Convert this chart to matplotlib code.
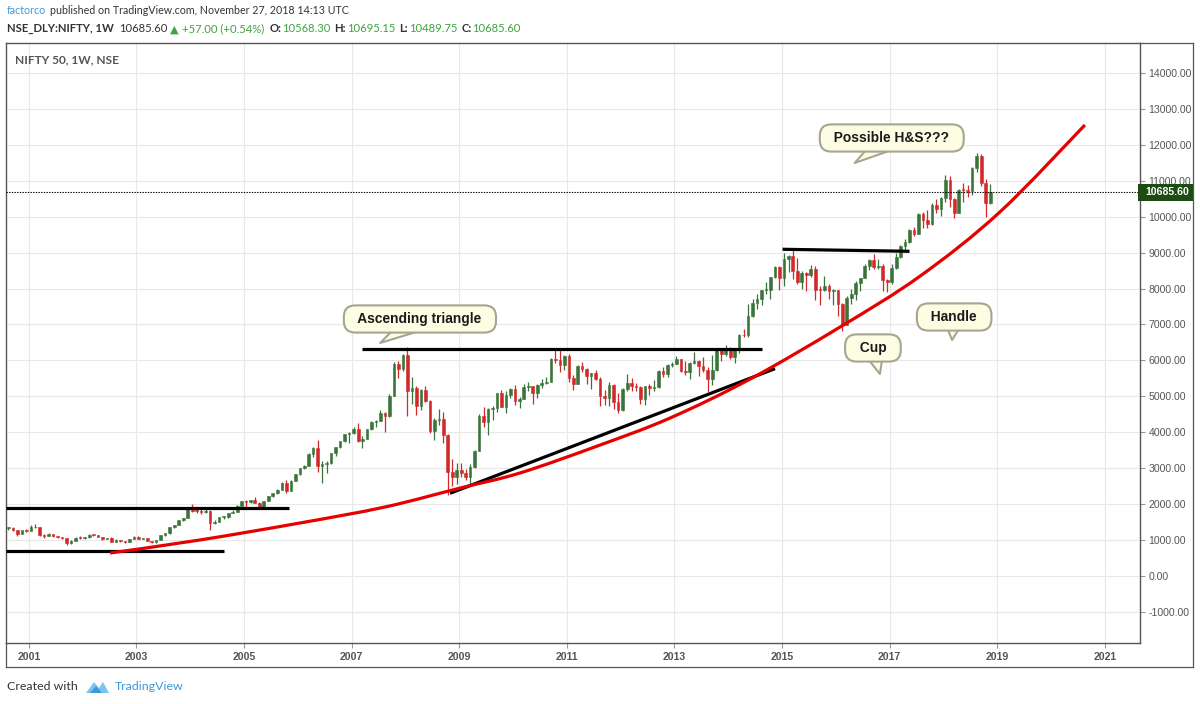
import numpy as np
import pandas as pd
import matplotlib
matplotlib.use("Agg")
import matplotlib.pyplot as plt
from matplotlib.patches import Rectangle, Polygon, PathPatch
from matplotlib.path import Path
from matplotlib.lines import Line2D
import matplotlib.transforms as mtransforms

plt.rcParams['font.family'] = ['Liberation Sans', 'DejaVu Sans']

W, H = 1200, 704

# ---------------- data (monthly NIFTY 50 candles) ----------------
start_month = "2000-08"
first_open = 1330
closes = [
    1332, 1271, 1172, 1268, 1264,
    1371, 1352, 1148, 1126, 1168, 1107, 1073, 1053, 913, 971, 1067, 1059,
    1075, 1142, 1130, 1084, 1028, 1058, 959, 1010, 963, 951, 1024, 1094,
    1042, 1063, 978, 934, 1007, 1134, 1185, 1356, 1418, 1556, 1615, 1880,
    1809, 1801, 1772, 1796, 1484, 1505, 1632, 1632, 1746, 1786, 1959, 2081,
    2058, 2104, 2036, 1902, 2087, 2221, 2312, 2385, 2601, 2371, 2652, 2837,
    3001, 3075, 3403, 3558, 3071, 3128, 3143, 3413, 3588, 3744, 3955, 3966,
    4083, 3745, 3822, 4087, 4296, 4318, 4529, 4464, 5021, 5901, 5762, 6139,
    5137, 5224, 4735, 5166, 4870, 4040, 4333, 4360, 3921, 2885, 2755, 2959,
    2874, 2763, 3021, 3474, 4449, 4291, 4636, 4662, 5084, 4712, 5033, 5201,
    4882, 4922, 5249, 5278, 5087, 5313, 5368, 5402, 6030, 6018, 5863, 6135,
    5506, 5333, 5834, 5749, 5560, 5647, 5482, 5001, 4943, 5327, 4832, 4624,
    5199, 5385, 5296, 5248, 4924, 5279, 5229, 5259, 5703, 5620, 5880, 5905,
    6035, 5693, 5683, 5930, 5986, 5842, 5742, 5471, 5735, 6299, 6176, 6304,
    6090, 6277, 6704, 6696, 7230, 7611, 7721, 7954, 7965, 8322, 8588, 8283,
    8809, 8902, 8491, 8182, 8434, 8369, 8533, 7971, 7949, 8066, 7935, 7946,
    7564, 6987, 7738, 7850, 8160, 8288, 8639, 8786, 8611, 8626, 8224, 8186,
    8561, 8880, 9174, 9304, 9621, 9521, 10077, 9918, 9789, 10335, 10227, 10531,
    11028, 10493, 10114, 10739, 10736, 10714, 11357, 11681, 10930, 10387, 10686,
]
highs = [
    1360, 1375, 1290, 1290, 1300,
    1425, 1440, 1370, 1180, 1200, 1170, 1120, 1085, 1060, 1000, 1080, 1110,
    1090, 1160, 1180, 1140, 1090, 1070, 1075, 1020, 1015, 980, 1030, 1100,
    1100, 1070, 1070, 985, 1010, 1140, 1190, 1360, 1430, 1560, 1620, 1900,
    2015, 1880, 1860, 1920, 1850, 1560, 1640, 1660, 1760, 1830, 1970, 2090,
    2110, 2120, 2190, 2070, 2090, 2230, 2320, 2420, 2620, 2670, 2660, 2850,
    3010, 3080, 3420, 3600, 3775, 3200, 3200, 3430, 3600, 3760, 3960, 4000,
    4160, 4250, 3900, 4100, 4300, 4340, 4620, 4560, 5060, 5950, 5980, 6185,
    6360, 5550, 5300, 5200, 5300, 4900, 4400, 4650, 4560, 3950, 3250, 3150,
    3150, 2990, 3120, 3520, 4510, 4700, 4670, 4740, 5090, 5180, 5140, 5220,
    5310, 4990, 5330, 5400, 5280, 5350, 5480, 5550, 6070, 6285, 6340, 6150,
    6180, 5600, 5870, 5950, 5780, 5660, 5740, 5550, 5170, 5400, 5330, 5100,
    5220, 5630, 5500, 5380, 5280, 5290, 5350, 5450, 5740, 5820, 5890, 5965,
    6110, 6050, 5970, 5960, 6230, 6010, 6090, 5810, 6140, 6310, 6340, 6420,
    6360, 6290, 6730, 6870, 7560, 7700, 7840, 7970, 8180, 8330, 8620, 8630,
    8990, 8940, 9120, 8840, 8490, 8470, 8650, 8620, 8060, 8340, 8120, 7980,
    7970, 7600, 7780, 7990, 8220, 8300, 8680, 8820, 8970, 8810, 8670, 8270,
    8670, 8980, 9220, 9370, 9650, 9710, 10110, 10140, 10180, 10380, 10490, 10550,
    11170, 11120, 10530, 10760, 10930, 10890, 11370, 11760, 11750, 11040, 10920,
]
lows = [
    1290, 1250, 1110, 1170, 1230,
    1250, 1330, 1100, 1060, 1110, 1090, 1060, 1030, 850, 900, 960, 1040,
    1040, 1070, 1120, 1080, 1010, 1020, 950, 950, 955, 920, 945, 1020,
    1030, 1030, 970, 920, 925, 1000, 1120, 1180, 1330, 1410, 1520, 1610,
    1780, 1760, 1720, 1760, 1290, 1440, 1500, 1580, 1620, 1740, 1780, 1950,
    1900, 2040, 2030, 1900, 1900, 2080, 2200, 2290, 2380, 2310, 2360, 2640,
    2800, 2990, 3050, 3300, 2900, 2600, 2880, 3130, 3330, 3560, 3720, 3700,
    3950, 3740, 3550, 3800, 4050, 4150, 4300, 4000, 4430, 5000, 5500, 5700,
    4450, 4800, 4470, 4630, 4850, 3990, 3790, 4200, 3700, 2250, 2500, 2570,
    2760, 2660, 2540, 3000, 3470, 4140, 3920, 4350, 4570, 4690, 4540, 4940,
    4770, 4680, 4920, 5160, 4790, 4960, 5230, 5350, 5400, 5930, 5690, 5720,
    5410, 5180, 5330, 5690, 5330, 5200, 5450, 4720, 4760, 4730, 4640, 4530,
    4590, 5160, 5140, 5150, 4790, 4770, 5030, 5160, 5220, 5550, 5550, 5820,
    5890, 5670, 5600, 5480, 5910, 5570, 5680, 5120, 5320, 5700, 5970, 6130,
    6030, 5930, 6210, 6650, 6640, 7220, 7420, 7540, 7840, 7720, 8290, 7960,
    8070, 8470, 8270, 8140, 7990, 7940, 8320, 7670, 7540, 7930, 7710, 7550,
    7240, 6830, 6980, 7580, 7680, 7930, 8280, 8520, 8550, 8550, 7920, 7890,
    8130, 8540, 8860, 9070, 9270, 9450, 9520, 9690, 9690, 9780, 10090, 10030,
    10400, 10280, 9950, 10110, 10420, 10560, 10600, 11230, 10850, 10000, 10340,
]
last_price = 10685.60

# axis ticks
year_ticks = [2001, 2003, 2005, 2007, 2009, 2011, 2013, 2015, 2017, 2019, 2021]
price_ticks = list(range(-1000, 14001, 1000))

# user drawings (trend lines)
support_years = [2000.58, 2004.63]
support_price = [696, 696]
resist_years = [2000.58, 2005.84]
resist_price = [1893, 1893]
triangle_top_years = [2007.195, 2014.63]
triangle_top_price = [6318, 6318]
triangle_base_years = [2008.83, 2014.87]
triangle_base_price = [2302, 5770]
cup_rim_years = [2015.01, 2017.37]
cup_rim_price = [9093, 9037]
curve_years = [2002.51, 2004.18, 2006.04, 2007.62, 2009.02, 2010.13, 2011.62,
               2012.92, 2014.41, 2016.08, 2017.57, 2019.05, 2020.63]
curve_price = [640, 1002, 1475, 1920, 2449, 2867, 3646, 4397, 5483, 6930,
               8350, 10131, 12552]

# callouts
callout_text = ["Ascending triangle", "Possible H&S???", "Cup", "Handle"]
callout_box_x = [2008.27, 2017.04, 2016.69, 2018.20]
callout_box_y = [7153, 12190, 6346, 7208]
callout_tip_x = [2007.53, 2016.35, 2016.82, 2018.16]
callout_tip_y = [6485, 11495, 5620, 6568]

# ---------------- figure ----------------
fig = plt.figure(figsize=(W / 100, H / 100), dpi=100)
fig.patch.set_facecolor('white')


def fx(px):
    return px / W


def fy(py):
    return 1 - py / H


ax = fig.add_axes([fx(6), fy(643), (1140 - 6) / W, (643 - 43) / H])
ax.set_xlim(2000.576, 2021.654)
ax.set_ylim(-1865, 14834)

# candles
dates = pd.date_range(start_month, periods=len(closes), freq='MS')
xs = np.array([d.year + (d.dayofyear - 1 + 14) / 365.25 for d in dates])
c = np.array(closes, dtype=float)
o = np.r_[first_open, c[:-1]]
hi = np.array(highs, dtype=float)
lo = np.array(lows, dtype=float)
up = c >= o
up_col, dn_col = '#3a743a', '#d02a2a'
cols = np.where(up, up_col, dn_col)
ax.vlines(xs, lo, hi, colors=cols, lw=0.9, zorder=3)
body_bottom = np.minimum(o, c)
body_h = np.maximum(np.abs(c - o), 25)
ax.bar(xs, body_h, bottom=body_bottom, width=0.05, color=cols, edgecolor=cols,
       lw=0.4, zorder=4)

# drawings
for xx, yy in [(support_years, support_price), (resist_years, resist_price),
               (triangle_top_years, triangle_top_price),
               (triangle_base_years, triangle_base_price),
               (cup_rim_years, cup_rim_price)]:
    ax.plot(xx, yy, color='black', lw=2.3, solid_capstyle='butt', zorder=6)

# smooth red curve through the read points (Catmull-Rom rendered as Bezier)
P = np.column_stack([curve_years, curve_price]).astype(float)
verts = [P[0]]
codes = [Path.MOVETO]
for i in range(len(P) - 1):
    p0 = P[i - 1] if i > 0 else P[i]
    p1 = P[i]
    p2 = P[i + 1]
    p3 = P[i + 2] if i + 2 < len(P) else P[i + 1]
    verts += [p1 + (p2 - p0) / 6.0, p2 - (p3 - p1) / 6.0, p2]
    codes += [Path.CURVE4] * 3
ax.add_patch(PathPatch(Path(verts, codes), fill=False, ec='#e60000', lw=2.3,
                       capstyle='butt', joinstyle='round', zorder=6))

# last price dotted line
ax.axhline(last_price, color='black', lw=0.8, ls=(0, (1.2, 1.2)), zorder=5)

# callouts
bubble_fc, bubble_ec = '#fdfde4', '#a5a590'
for txt, bx, by, tx, ty in zip(callout_text, callout_box_x, callout_box_y,
                               callout_tip_x, callout_tip_y):
    ax.annotate('  ' + txt + '  ', xy=(tx, ty), xytext=(bx, by),
                ha='center', va='center', fontsize=9.9, fontweight='bold',
                color='#1a1a1a',
                bbox=dict(boxstyle='round,pad=0.48,rounding_size=0.85',
                          fc=bubble_fc, ec=bubble_ec, lw=1.5),
                arrowprops=dict(arrowstyle='wedge,tail_width=1.7,shrink_factor=0.5',
                                fc=bubble_fc, ec=bubble_ec, lw=1.5,
                                patchA=None, shrinkA=0, shrinkB=0),
                zorder=10)

# axes styling
ax.set_xticks(year_ticks)
ax.set_xticklabels([str(y) for y in year_ticks], fontweight='bold')
ax.set_yticks(price_ticks)
ax.set_yticklabels(['%.2f' % v for v in price_ticks])
ax.yaxis.tick_right()
ax.tick_params(axis='y', labelsize=7.6, labelcolor='#555555', color='#999999',
               length=3.5, width=0.8, pad=2.5)
ax.tick_params(axis='x', labelsize=7.6, labelcolor='#555555', color='#999999',
               length=3.5, width=0.8, pad=3)
ax.grid(True, color='#e8e8e8', lw=0.8)
ax.set_axisbelow(True)
for s in ax.spines.values():
    s.set_color('#555555')
    s.set_linewidth(1.0)

# last price label on axis
blend = mtransforms.blended_transform_factory(ax.transAxes, ax.transData)
box_h = 17 / (600 / (14834 + 1865))
ax.add_patch(Rectangle((1.0 - 2 / 1134, last_price - box_h / 2), (1193 - 1138) / 1134,
                       box_h, transform=blend, clip_on=False, fc='#1c4b13',
                       ec='none', zorder=20))
ax.text(1.0 + 5 / 1134, last_price, '%.2f' % last_price, transform=blend,
        ha='left', va='center', fontsize=7.6, fontweight='bold', color='white',
        zorder=21, clip_on=False)

# title inside chart
fig.text(fx(15), fy(60), 'NIFTY 50, 1W, NSE', fontsize=8.6, fontweight='bold',
         color='#555555', ha='left', va='center', family=['Lato', 'DejaVu Sans'])

# outer frame
frame_col = '#555555'
for (x0, y0, x1, y1) in [(6, 667, 1193, 667), (1193, 43, 1193, 667),
                         (1140, 43, 1193, 43), (6, 643, 6, 667)]:
    fig.add_artist(Line2D([fx(x0), fx(x1)], [fy(y0), fy(y1)], color=frame_col,
                          lw=0.9, transform=fig.transFigure))

# header texts
renderer = fig.canvas.get_renderer()


def text_run(x_px, y_px, parts, size):
    x = x_px
    for s, color, weight, gap in parts:
        t = fig.text(fx(x), fy(y_px), s, color=color, fontweight=weight,
                     fontsize=size, family=['Lato', 'DejaVu Sans'],
                     ha='left', va='center')
        bb = t.get_window_extent(renderer=renderer)
        x = bb.x1 + gap


dark = '#333333'
green = '#3fa33f'
blue = '#3a9ad9'
text_run(7, 11, [('factorco', blue, 'normal', 3.5),
                 ('published on TradingView.com, November 27, 2018 14:13 UTC',
                  dark, 'normal', 0)], 7.7)
text_run(7, 29, [('NSE_DLY:NIFTY, 1W', dark, 'bold', 5),
                 ('10685.60', dark, 'normal', 3),
                 ('\u25B2', green, 'normal', 3),
                 ('+57.00 (+0.54%)', green, 'normal', 5),
                 ('O:', dark, 'bold', 1), ('10568.30', green, 'normal', 4),
                 ('H:', dark, 'bold', 1), ('10695.15', green, 'normal', 4),
                 ('L:', dark, 'bold', 1), ('10489.75', green, 'normal', 4),
                 ('C:', dark, 'bold', 1), ('10685.60', green, 'normal', 0)], 8.1)

# footer
text_run(7, 687, [('Created with', dark, 'normal', 0)], 8.9)
logo1 = Polygon([(fx(86), fy(693)), (fx(94), fy(682)), (fx(99), fy(688)),
                 (fx(103), fy(682)), (fx(109), fy(693))], closed=True,
                fc='#7cc4ee', ec='none', transform=fig.transFigure)
logo2 = Polygon([(fx(90), fy(693)), (fx(96), fy(686)), (fx(102), fy(693))],
                closed=True, fc='#3a9ad9', ec='none', transform=fig.transFigure)
fig.add_artist(logo1)
fig.add_artist(logo2)
text_run(115, 687, [('TradingView', blue, 'normal', 0)], 8.9)

fig.savefig('out.png', dpi=100, facecolor='white')
